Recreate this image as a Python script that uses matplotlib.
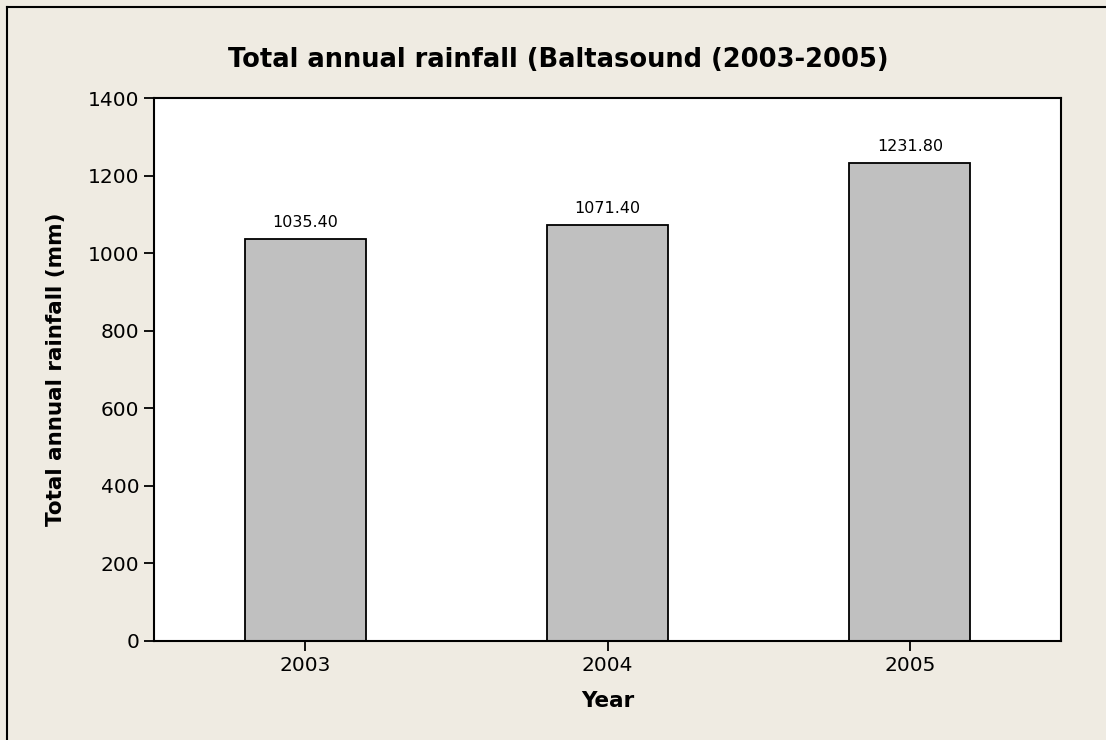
import matplotlib.pyplot as plt
from matplotlib.lines import Line2D

years = ['2003', '2004', '2005']
rainfall = [1035.40, 1071.40, 1231.80]
yticks = [0, 200, 400, 600, 800, 1000, 1200, 1400]

bg = '#EFEBE2'
fig = plt.figure(figsize=(11.06, 7.40), dpi=100, facecolor=bg)
ax = fig.add_axes([154 / 1106, 1 - 641 / 740, 907 / 1106, 543 / 740])
ax.set_facecolor('white')

pos = list(range(1, len(years) + 1))
bars = ax.bar(pos, rainfall, width=0.4, color='#C0C0C0', edgecolor='black', linewidth=1.3)
for x, v in zip(pos, rainfall):
    ax.text(x, v + 24, f'{v:.2f}', ha='center', va='bottom', fontsize=11.5)

ax.set_xlim(0.5, 3.5)
ax.set_ylim(0, 1400)
ax.set_xticks(pos)
ax.set_xticklabels(years)
ax.set_yticks(yticks)
ax.tick_params(axis='both', labelsize=14.5, length=7, width=1.3, direction='out')
for s in ax.spines.values():
    s.set_linewidth(1.5)

ax.set_xlabel('Year', fontsize=15.5, fontweight='bold', labelpad=12)
ax.set_ylabel('Total annual rainfall (mm)', fontsize=15.5, fontweight='bold', labelpad=16)
fig.text(0.505, 1 - 60 / 740, 'Total annual rainfall (Baltasound (2003-2005)',
         ha='center', va='center', fontsize=18.5, fontweight='bold')

# frame lines at left and top
fig.add_artist(Line2D([7 / 1106, 7 / 1106], [0, 1 - 7 / 740], color='black', lw=1.5))
fig.add_artist(Line2D([7 / 1106, 1], [1 - 7 / 740, 1 - 7 / 740], color='black', lw=1.5))

fig.savefig('out.png', dpi=100, facecolor=bg)
